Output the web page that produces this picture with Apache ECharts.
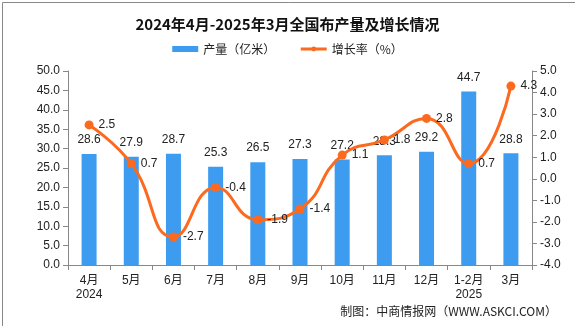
<!DOCTYPE html>
<html><head><meta charset="utf-8">
<script src="https://cdn.jsdelivr.net/npm/echarts@6/dist/echarts.min.js"></script>
<style>html,body{margin:0;padding:0;background:#fff}#c{width:575px;height:326px}</style>
</head><body><div id="c"></div>
<script>
const categories = ['4月\n2024','5月','6月','7月','8月','9月','10月','11月','12月','1-2月\n2025','3月'];
const output = [28.6,27.9,28.7,25.3,26.5,27.3,27.2,28.3,29.2,44.7,28.8];
const growth = [2.5,0.7,-2.7,-0.4,-1.9,-1.4,1.1,1.8,2.8,0.7,4.3];
const leftTicks = {min:0,max:50,interval:5};
const rightTicks = {min:-4,max:5,interval:1};

const font = '"Liberation Sans","Noto Sans CJK SC",sans-serif';
const chart = echarts.init(document.getElementById('c'));
chart.setOption({
  animation:false,
  textStyle:{fontFamily:font},
  title:{text:'2024年4月-2025年3月全国布产量及增长情况',left:'center',top:12,
    textStyle:{fontSize:15,fontWeight:'bold',color:'#111',fontFamily:'"Noto Sans CJK SC",sans-serif'}},
  legend:{top:38,left:'center',itemWidth:26,itemHeight:6,itemGap:24,
    textStyle:{fontSize:12,color:'#222',fontFamily:'"Noto Sans CJK SC",sans-serif'},
    data:[{name:'产量（亿米）',icon:'rect'},{name:'增长率（%）',lineStyle:{width:3}}]},
  graphic:[
    {type:'rect',left:0,top:0,shape:{width:574,height:325},style:{fill:'none',stroke:'#888',lineWidth:1},silent:true},
    {type:'text',right:18,top:305,style:{text:'制图：中商情报网（WWW.ASKCI.COM）',fill:'#222',font:'12px "Noto Sans CJK SC",sans-serif'}}
  ],
  grid:{left:68,right:43,top:71,bottom:61},
  xAxis:{type:'category',data:categories,boundaryGap:true,
    axisLine:{lineStyle:{color:'#888'}},
    axisTick:{show:true,length:5,lineStyle:{color:'#888'}},
    axisLabel:{color:'#222',fontSize:12,margin:9,lineHeight:14,interval:0}},
  yAxis:[
    {type:'value',min:leftTicks.min,max:leftTicks.max,interval:leftTicks.interval,
     splitLine:{show:false},axisLine:{show:true,lineStyle:{color:'#888'}},
     axisTick:{show:true,length:5,lineStyle:{color:'#888'}},
     axisLabel:{color:'#222',fontSize:12,formatter:v=>v.toFixed(1)}},
    {type:'value',min:rightTicks.min,max:rightTicks.max,interval:rightTicks.interval,
     splitLine:{show:false},axisLine:{show:true,lineStyle:{color:'#888'}},
     axisTick:{show:true,length:5,lineStyle:{color:'#888'}},
     axisLabel:{color:'#222',fontSize:12,formatter:v=>v.toFixed(1)}}
  ],
  series:[
    {name:'产量（亿米）',type:'bar',data:output,barWidth:15,yAxisIndex:0,
     itemStyle:{color:'#3d9cf0'},
     label:{show:true,position:'top',distance:8,color:'#222',fontSize:12,formatter:p=>p.value.toFixed(1)}},
    {name:'增长率（%）',type:'line',data:growth,yAxisIndex:1,smooth:0.5,
     symbol:'circle',symbolSize:9,lineStyle:{width:3,color:'#fb6a1f'},itemStyle:{color:'#fb6a1f'},
     label:{show:true,position:'right',distance:5,color:'#222',fontSize:12,formatter:p=>p.value.toFixed(1)}}
  ]
});
</script></body></html>
